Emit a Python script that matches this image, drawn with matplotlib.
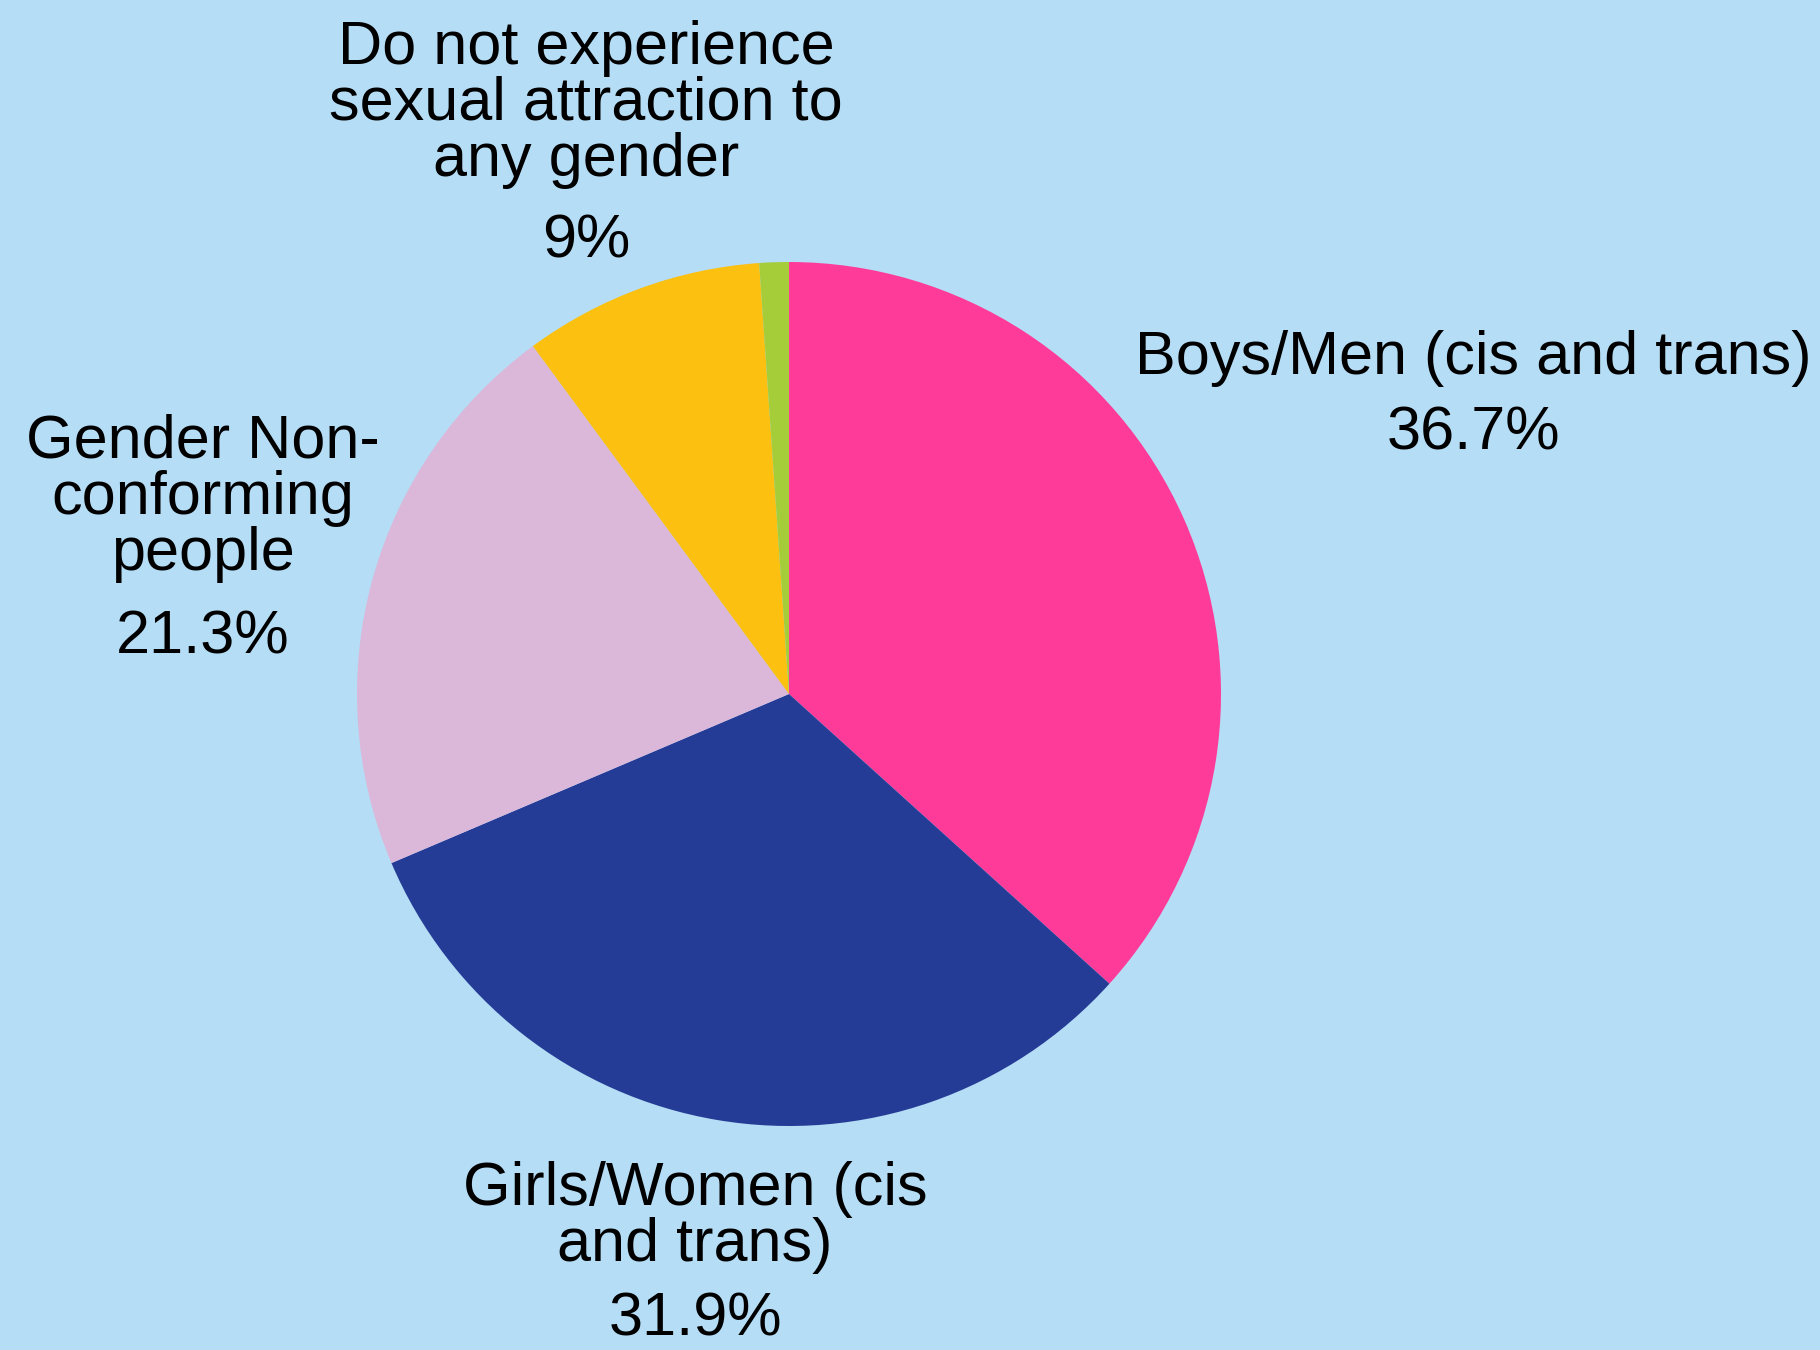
import matplotlib.pyplot as plt

# ------------ DATA ------------

categories = [
    "Boys/Men (cis and trans)",
    "Girls/Women (cis\nand trans)",
    "Gender Non-\nconforming\npeople",
    "Do not experience\nsexual attraction to\nany gender",
    "",
]
shares = [36.7, 31.9, 21.3, 9.0, 1.1]
share_labels = ["36.7%", "31.9%", "21.3%", "9%", ""]

# ------------ STYLE ------------

W, H = 1820, 1350
BG = "#B5DDF5"
COLORS = ["#FF3B9A", "#253C96", "#DBB7D9", "#FCC010", "#A5CD39"]
FONT = ["Liberation Sans", "DejaVu Sans"]
FONT_SIZE = 44
LINE_STEP = 56

# label anchor: (center x, first baseline y, baseline y of percentage) in pixels from top
label_pos = [
    (1473, 374, 450),
    (695, 1205, 1335),
    (203, 458, 653),
    (586, 64, 258),
    None,
]

fig = plt.figure(figsize=(W / 100, H / 100), dpi=100, facecolor=BG)
ax = fig.add_axes([0, 0, 1, 1])
ax.set_facecolor(BG)

ax.pie(shares, colors=COLORS, startangle=90, counterclock=False,
       center=(789, H - 694), radius=432,
       wedgeprops=dict(linewidth=0, antialiased=True))

ax.set_xlim(0, W)
ax.set_ylim(0, H)
ax.set_aspect("equal")
ax.axis("off")

for name, pct, pos in zip(categories, share_labels, label_pos):
    if pos is None:
        continue
    x, y0, yp = pos
    for i, line in enumerate(name.split("\n")):
        ax.text(x, H - (y0 + i * LINE_STEP), line, ha="center", va="baseline",
                fontsize=FONT_SIZE, family=FONT, color="black")
    ax.text(x, H - yp, pct, ha="center", va="baseline",
            fontsize=FONT_SIZE, family=FONT, color="black")

fig.savefig("out.png", dpi=100, facecolor=BG)
